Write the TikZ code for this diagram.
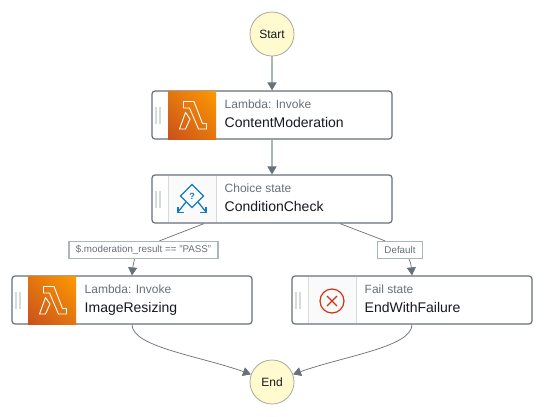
\documentclass[tikz,border=0pt]{standalone}
\usepackage{fontspec}
\setmainfont{Liberation Sans}
\usetikzlibrary{arrows.meta,shadings}
\definecolor{bordergray}{HTML}{687078}
\definecolor{edgelight}{HTML}{AAB7B8}
\definecolor{circlefill}{HTML}{FFFBCF}
\definecolor{circleline}{HTML}{A9A9A0}
\definecolor{panelfill}{HTML}{FAFAFA}
\definecolor{panelline}{HTML}{D5DBDB}
\definecolor{subtext}{HTML}{687078}
\definecolor{titletext}{HTML}{16191F}
\definecolor{lamlow}{HTML}{C8511B}
\definecolor{lamhigh}{HTML}{FF9900}
\definecolor{lammid}{HTML}{E37510}
\definecolor{choiceblue}{HTML}{0F7CC4}
\definecolor{failred}{HTML}{D13212}
\tikzset{
  x=1pt,y=-1pt,
  terminal/.style={circle,draw=circleline,line width=0.8pt,fill=circlefill,minimum size=44pt,inner sep=0pt,font=\fontsize{12}{14}\selectfont,text=titletext},
  statebox/.style={rectangle,rounded corners=3pt,draw=bordergray,line width=1.2pt,fill=white,minimum width=240pt,minimum height=48pt,inner sep=0pt},
  subcap/.style={anchor=base west,inner sep=0pt,font=\fontsize{12}{14}\selectfont,text=subtext},
  titlecap/.style={anchor=base west,inner sep=0pt,font=\fontsize{14}{16}\selectfont,text=titletext},
  edgelabel/.style={rectangle,draw=edgelight,line width=1.3pt,fill=white,inner sep=0pt,minimum height=17pt,font=\fontsize{9.8}{12}\selectfont,text=subtext},
  mainedge/.style={draw=edgelight,line width=1.6pt},
  thinedge/.style={draw=bordergray,line width=0.7pt},
  tip/.style={-{Triangle[length=8pt,width=9pt,color=bordergray]}},
  grip/.style={draw=panelline,line width=1.6pt},
  lambdaglyph/.style={draw=white,line width=0.9pt,line join=round},
}
\newcommand{\lambdaicon}[2]{%
  \shade[lower left=lamlow,upper right=lamhigh,lower right=lammid,upper left=lammid] (#1,#2) rectangle ++(48,48);
  \draw[lambdaglyph] (#1+15.5,#2+10.5) -- (#1+26,#2+10.5) -- (#1+34.5,#2+32.5) -- (#1+38.5,#2+32.5) -- (#1+38.5,#2+38) -- (#1+30.5,#2+38) -- (#1+21.5,#2+17) -- (#1+15.5,#2+17) -- cycle;
  \draw[lambdaglyph] (#1+17.5,#2+21.5) -- (#1+11.5,#2+38) -- (#1+17.5,#2+38) -- (#1+22,#2+28) -- cycle;
}
\newcommand{\gripbars}[2]{%
  \draw[grip] (#1+4.2,#2+16) -- (#1+4.2,#2+33);
  \draw[grip] (#1+7.8,#2+16) -- (#1+7.8,#2+33);
}
\newcommand{\iconpanel}[2]{%
  \fill[panelfill] (#1+16,#2+0.6) rectangle (#1+64,#2+47.4);
  \draw[panelline,line width=0.8pt] (#1+16,#2+0.6) -- (#1+16,#2+47.4);
  \draw[panelline,line width=0.8pt] (#1+64,#2+0.6) -- (#1+64,#2+47.4);
}
\begin{document}
\begin{tikzpicture}
\useasboundingbox (0,0) rectangle (544,416);
\fill[white] (0,0) rectangle (544,416);

\node[terminal] (start) at (272,34) {Start};
\node[terminal] (end) at (272,382) {End};
\node[statebox] (moderation) at (272,115) {};
\node[statebox] (choice) at (272,199) {};
\node[statebox] (resize) at (132,300) {};
\node[statebox] (failure) at (412,300) {};

\lambdaicon{168}{91}
\gripbars{152}{91}
\node[subcap] (moderationsub) at (224.5,108.5) {Lambda: Invoke};
\node[titlecap] (moderationtitle) at (224.5,127) {ContentModeration};

\iconpanel{152}{175}
\gripbars{152}{175}
\draw[choiceblue,line width=1.3pt,line join=miter] (192,184.5) -- (203.5,196) -- (192,207.5) -- (180.5,196) -- cycle;
\draw[choiceblue,line width=1.3pt] (186,202) -- (178,212);
\draw[choiceblue,line width=1.3pt] (198,202) -- (206,212);
\draw[choiceblue,line width=1.3pt] (178,206.5) -- (178,212.5) -- (184,212.5);
\draw[choiceblue,line width=1.3pt] (206,206.5) -- (206,212.5) -- (200,212.5);
\node[inner sep=0pt,font=\bfseries\fontsize{9}{10}\selectfont,text=choiceblue] (choicemark) at (192,196) {?};
\node[subcap] (choicesub) at (224.5,192.5) {Choice state};
\node[titlecap] (choicetitle) at (224.5,211) {ConditionCheck};

\lambdaicon{28}{276}
\gripbars{12}{276}
\node[subcap] (resizesub) at (84.5,293.5) {Lambda: Invoke};
\node[titlecap] (resizetitle) at (84.5,312) {ImageResizing};

\iconpanel{292}{276}
\gripbars{292}{276}
\node[circle,draw=failred,line width=1.2pt,minimum size=24pt,inner sep=0pt] (failicon) at (332,301) {};
\draw[failred,line width=1.1pt] (327,296) -- (337,306);
\draw[failred,line width=1.1pt] (337,296) -- (327,306);
\node[subcap] (failuresub) at (364.5,293.5) {Fail state};
\node[titlecap] (failuretitle) at (364.5,312) {EndWithFailure};

\node[edgelabel,minimum width=149pt] (passlabel) at (143.5,250) {\$.moderation\_result == "PASS"};
\node[edgelabel,minimum width=45pt] (defaultlabel) at (400,250) {Default};

\draw[mainedge,tip] (start) -- (moderation);
\draw[mainedge,tip] (moderation) -- (choice);
\draw[thinedge] ([xshift=-68pt]choice.south) -- ([xshift=16pt]passlabel.north);
\draw[thinedge,tip] ([xshift=-9pt]passlabel.south) .. controls (133,264) .. (resize.north);
\draw[thinedge] ([xshift=68pt]choice.south) -- ([xshift=-15pt]defaultlabel.north);
\draw[thinedge,tip] ([xshift=9pt]defaultlabel.south) .. controls (411,264) .. (failure.north);
\draw[thinedge,tip] (resize.south) .. controls (132,347) and (200,356) .. (end.160);
\draw[thinedge,tip] (failure.south) .. controls (412,347) and (344,356) .. (end.20);
\end{tikzpicture}
\end{document}
